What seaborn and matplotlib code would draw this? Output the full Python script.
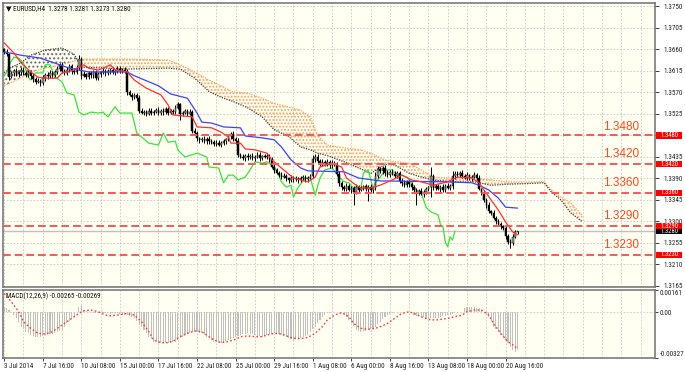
import numpy as np
import seaborn as sns
import matplotlib.pyplot as plt
from matplotlib import font_manager
from matplotlib.patches import Rectangle

# prices are kept as pips above 1.3000
BASE = 1.3

close_pips = [655, 650, 603, 610, 615, 608, 612, 618, 610, 606,
              612, 605, 598, 592, 595, 590, 600, 607, 604, 610,
              606, 612, 620, 628, 615, 610, 618, 625, 615, 612,
              622, 640, 605, 608, 603, 610, 606, 612, 600, 608,
              612, 616, 610, 614, 618, 612, 616, 620, 614, 618,
              615, 570, 565, 560, 564, 558, 532, 528, 530, 526,
              532, 528, 530, 534, 527, 531, 529, 535, 528, 532,
              530, 538, 545, 525, 528, 531, 526, 529, 490, 485,
              474, 470, 472, 468, 473, 469, 466, 462, 465, 461,
              464, 468, 472, 478, 484, 473, 469, 440, 436, 432,
              437, 434, 438, 432, 436, 440, 433, 437, 435, 438,
              430, 415, 408, 402, 398, 393, 396, 390, 386, 392,
              388, 391, 386, 390, 393, 388, 392, 395, 430, 436,
              426, 422, 425, 420, 424, 418, 423, 419, 400, 380,
              372, 368, 375, 366, 370, 362, 372, 366, 370, 374,
              368, 372, 365, 370, 395, 410, 405, 412, 402, 398,
              404, 400, 396, 402, 385, 380, 376, 383, 378, 372,
              365, 360, 364, 358, 362, 368, 372, 395, 370, 374,
              368, 372, 366, 375, 370, 374, 395, 400, 397, 402,
              395, 392, 397, 390, 394, 398, 392, 368, 360, 345,
              335, 322, 318, 308, 300, 295, 290, 287, 270, 258,
              255, 268, 278, 280]
first_open_pips = 660
wick_hi = [4, 6, 3, 5, 4, 7, 3, 5, 6, 4,
           5, 3, 6, 4, 5, 3, 6, 4, 5, 7,
           4, 6, 5, 3, 5, 4, 6, 5, 4, 6,
           5, 8, 4, 6, 3, 5, 4, 6, 5, 4,
           3, 5, 4, 6, 3, 5, 4, 5, 6, 4,
           5, 4, 6, 3, 5, 4, 6, 5, 3, 4,
           5, 6, 4, 3, 5, 4, 6, 4, 5, 3,
           4, 6, 5, 4, 3, 5, 4, 6, 4, 5,
           4, 3, 5, 6, 4, 5, 3, 4, 6, 5,
           4, 5, 3, 6, 4, 5, 4, 6, 3, 5,
           4, 6, 3, 5, 4, 6, 5, 3, 4, 5,
           4, 5, 6, 3, 4, 5, 6, 4, 3, 5,
           4, 5, 3, 6, 4, 5, 3, 4, 10, 5,
           6, 4, 5, 3, 6, 4, 5, 4, 6, 5,
           4, 5, 6, 3, 5, 4, 6, 5, 4, 3,
           5, 4, 6, 3, 8, 6, 5, 4, 6, 5,
           4, 6, 5, 3, 4, 5, 6, 3, 4, 5,
           4, 5, 3, 6, 4, 5, 3, 19, 5, 4,
           5, 4, 6, 3, 5, 4, 10, 6, 5, 4,
           5, 4, 6, 3, 4, 5, 4, 6, 3, 5,
           4, 5, 3, 6, 4, 5, 4, 3, 5, 4,
           6, 5, 4, 1]
wick_lo = [5, 4, 6, 3, 5, 4, 6, 5, 3, 4,
           4, 6, 5, 4, 3, 6, 4, 5, 6, 3,
           5, 4, 3, 6, 5, 4, 3, 5, 6, 4,
           4, 5, 6, 3, 5, 4, 6, 5, 4, 3,
           5, 4, 6, 3, 5, 4, 5, 6, 4, 3,
           4, 5, 3, 6, 4, 5, 4, 3, 6, 5,
           4, 5, 6, 3, 5, 4, 6, 3, 5, 4,
           5, 4, 3, 13, 5, 4, 6, 3, 5, 4,
           6, 5, 4, 3, 5, 6, 4, 5, 3, 4,
           5, 4, 6, 3, 5, 4, 6, 5, 4, 3,
           5, 6, 4, 3, 5, 4, 6, 5, 3, 4,
           5, 4, 6, 3, 5, 4, 3, 6, 5, 4,
           6, 4, 5, 3, 4, 6, 5, 4, 3, 5,
           4, 6, 5, 3, 4, 5, 6, 3, 4, 5,
           6, 4, 5, 3, 6, 27, 4, 5, 3, 4,
           5, 26, 4, 6, 5, 3, 4, 5, 6, 4,
           5, 3, 6, 4, 5, 6, 3, 4, 5, 6,
           4, 25, 5, 3, 6, 4, 5, 21, 4, 5,
           3, 6, 4, 5, 3, 4, 5, 6, 4, 3,
           5, 4, 6, 3, 5, 4, 6, 3, 5, 4,
           6, 4, 5, 3, 6, 4, 5, 4, 6, 5,
           10, 4, 3, 5]

tenkan_bar = [0, 2, 4, 7, 9, 11, 14, 17, 22, 24, 29, 31, 33, 35, 39, 42, 44, 46, 51, 54,
              59, 65, 68, 70, 78, 80, 86, 90, 93, 94, 98, 100, 104, 109, 111, 115, 120, 126, 129, 131,
              136, 140, 142, 146, 148, 152, 156, 161, 165, 169, 173, 178, 184, 188, 194, 197, 199, 202, 205, 208,
              211, 213]
tenkan_pips = [674, 663, 653, 632, 623, 613, 602, 600, 600, 611, 617, 623, 628, 621, 617, 623, 628, 617, 613, 596,
               579, 565, 544, 523, 519, 498, 496, 487, 477, 464, 464, 452, 450, 443, 429, 412, 391, 383, 393, 414,
               422, 414, 391, 376, 370, 370, 376, 387, 397, 387, 383, 376, 383, 393, 391, 381, 366, 345, 324, 299,
               278, 272]

kijun_bar = [0, 7, 15, 27, 35, 51, 54, 64, 69, 76, 80, 82, 86, 91, 98, 100, 107, 112, 115, 119,
             123, 126, 141, 147, 156, 184, 194, 197, 201, 205, 208, 213]
kijun_pips = [655, 648, 642, 621, 613, 613, 605, 584, 567, 558, 527, 508, 506, 498, 496, 479, 475, 471, 456, 429,
              412, 406, 404, 391, 385, 383, 381, 376, 366, 349, 330, 328]

chikou_bar = [0, 1, 2, 4, 6, 8, 10, 11, 13, 16, 17, 19, 21, 23, 24, 26, 29, 31, 33, 36,
              39, 41, 43, 45, 46, 48, 51, 53, 55, 60, 64, 66, 68, 71, 72, 75, 80, 84, 85, 89,
              91, 93, 95, 97, 100, 102, 104, 107, 109, 111, 113, 115, 117, 119, 120, 122, 125, 127, 129, 131,
              133, 136, 139, 141, 143, 145, 148, 149, 151, 153, 154, 156, 158, 161, 163, 165, 167, 169, 171, 173,
              175, 177, 180, 181, 182, 183, 184, 185, 186, 187]
chikou_pips = [607, 611, 628, 644, 642, 632, 602, 596, 611, 611, 628, 628, 602, 596, 592, 569, 565, 529, 523, 529,
               527, 529, 519, 533, 540, 527, 527, 527, 485, 464, 460, 485, 466, 468, 450, 435, 443, 435, 414, 412,
               381, 397, 397, 387, 393, 408, 425, 422, 425, 418, 408, 383, 372, 376, 351, 372, 391, 391, 355, 391,
               408, 412, 393, 383, 381, 370, 370, 401, 408, 370, 381, 393, 408, 408, 397, 397, 393, 381, 366, 360,
               330, 320, 314, 293, 290, 257, 247, 268, 261, 280]

span_bar = [0, 3, 7, 11, 17, 24, 29, 32, 51, 68, 73, 79, 85, 90, 95, 101, 107, 112, 118, 123,
            127, 130, 134, 141, 148, 152, 158, 162, 168, 173, 178, 185, 195, 202, 209, 215, 224, 227, 231, 235,
            240]
span_a = [584, 591, 601, 613, 621, 628, 636, 640, 640, 638, 628, 613, 596, 584, 571, 569, 558, 547, 540, 533,
          519, 481, 460, 454, 450, 443, 429, 425, 422, 408, 393, 391, 391, 387, 383, 383, 383, 366, 351, 339,
          312]
span_b = [611, 623, 632, 648, 659, 663, 650, 623, 619, 621, 619, 600, 572, 560, 551, 538, 519, 492, 478, 456,
          450, 443, 438, 425, 410, 400, 420, 418, 401, 393, 387, 383, 383, 376, 378, 379, 381, 362, 345, 318,
          299]

levels = [1.3480, 1.3420, 1.3360, 1.3290, 1.3230]
last_price = 1.3280
price_ticks = [1.3750, 1.3705, 1.3660, 1.3615, 1.3570, 1.3525, 1.3480,
               1.3435, 1.3390, 1.3345, 1.3300, 1.3255, 1.3210, 1.3165]

date_bars = [0, 16, 32, 48, 64, 80, 96, 112, 128, 144, 160, 176, 192, 208]
date_labels = ['3 Jul 2014', '7 Jul 16:00', '10 Jul 08:00', '15 Jul 00:00', '17 Jul 16:00',
               '22 Jul 08:00', '25 Jul 00:00', '29 Jul 16:00', '1 Aug 08:00', '6 Aug 00:00',
               '8 Aug 16:00', '13 Aug 08:00', '18 Aug 00:00', '20 Aug 16:00']

# MACD values in units of 0.00001
macd_main = [40, 30, 15, 5, -15, -43, -70, -102, -120, -138,
             -150, -162, -168, -174, -175, -174, -170, -166, -162, -158,
             -154, -150, -142, -134, -126, -105, -79, -62, -46, -31,
             5, 40, 52, 17, 10, 5, 0, -3, -5, -6,
             -7, -6, -5, -7, -8, -6, -7, -7, -10, -13,
             -16, -19, -27, -35, -43, -63, -82, -102, -126, -150,
             -174, -192, -209, -215, -218, -221, -222, -221, -221, -217,
             -213, -209, -197, -186, -174, -162, -150, -145, -140, -138,
             -142, -146, -150, -162, -174, -186, -198, -209, -214, -218,
             -221, -214, -206, -198, -190, -182, -174, -170, -162, -158,
             -154, -150, -154, -158, -162, -166, -170, -174, -168, -162,
             -158, -154, -150, -154, -158, -162, -170, -178, -186, -192,
             -198, -194, -190, -186, -178, -170, -162, -142, -122, -102,
             -78, -54, -31, -20, -7, -2, 2, 5, 3, 0,
             -7, -15, -31, -55, -79, -100, -126, -132, -138, -134,
             -130, -126, -118, -110, -102, -85, -67, -50, -35, -19,
             -10, -5, 0, 3, 4, 5, 5, 5, 5, -5,
             -19, -23, -27, -31, -35, -39, -43, -43, -43, -43,
             -37, -31, -27, -23, -19, -15, -11, -7, -3, 1,
             5, 29, 40, 39, 38, 36, 33, 29, 15, 0,
             -15, -31, -65, -102, -122, -142, -162, -182, -202, -221,
             -245, -269, -285, -265]
signal_bar = [0, 3, 6, 8, 11, 14, 17, 20, 22, 25, 28, 31, 33, 36, 39, 42, 44, 47, 51, 54,
              57, 60, 62, 65, 68, 71, 73, 76, 79, 82, 85, 87, 90, 93, 96, 98, 101, 104, 107, 109,
              112, 115, 118, 120, 123, 126, 129, 132, 134, 137, 140, 143, 145, 148, 151, 154, 156, 159, 162, 165,
              168, 170, 173, 176, 179, 181, 184, 187, 190, 192, 195, 198, 201, 203, 206, 209, 212, 213]
signal_val = [136, 76, 5, -67, -114, -150, -155, -138, -114, -79, -43, -7, 12, 17, 5, -19, -24, -19, -7, -19,
              -67, -138, -198, -217, -217, -198, -174, -150, -133, -138, -174, -198, -217, -209, -193, -174, -169, -174, -174, -162,
              -150, -155, -174, -186, -188, -179, -150, -102, -55, -19, -2, -31, -79, -114, -121, -114, -102, -79, -43, -7,
              5, -7, -31, -50, -55, -50, -43, -31, -19, 5, 17, 17, -19, -79, -150, -209, -245, -269]
macd_ticks = [0.00161, 0.0, -0.00327]
macd_tick_labels = ['0.00161', '0.00', '-0.00327']


def px(p):
    return BASE + np.asarray(p, dtype=float) / 1e4


sns.set_theme(style='white')
installed = {f.name for f in font_manager.fontManager.ttflist}
narrow = next((f for f in ['Liberation Sans Narrow', 'DejaVu Sans Condensed', 'Roboto Condensed']
               if f in installed), None)
small_fs = 5.1 if narrow else 4.5
plt.rcParams['font.family'] = [narrow or 'Liberation Sans', 'DejaVu Sans']
plt.rcParams['hatch.linewidth'] = 0.9

W, H = 685, 372
fig = plt.figure(figsize=(W / 100, H / 100), dpi=100)
fig.patch.set_facecolor('white')


def frame(x0, y0, x1, y1):
    return [x0 / W, 1 - y1 / H, (x1 - x0) / W, (y1 - y0) / H]


ax = fig.add_axes(frame(3, 3, 655, 287))
ax2 = fig.add_axes(frame(3, 290, 655, 358))
bg = '#fffff2'
grid_kw = dict(color='#c6c6c6', lw=0.6, ls=(0, (2, 2)), zorder=0)

for a in (ax, ax2):
    a.set_facecolor(bg)
    a.set_xlim(-0.5, 270)
    for s in a.spines.values():
        s.set_color('#707070')
        s.set_linewidth(1.1)
    for g in range(0, 271, 8):
        a.axvline(g, **grid_kw)

# ---- main price panel ----
ax.set_ylim(1.31629, 1.37573)
for t in price_ticks:
    ax.axhline(t, **grid_kw)

# ichimoku cloud
sb = np.array(span_bar)
sa = px(span_a)
sbb = px(span_b)
ax.fill_between(sb, sa, sbb, where=sa >= sbb, interpolate=True, facecolor='none',
                edgecolor='#f4a460', hatch='.....', lw=0, zorder=1)
ax.fill_between(sb, sa, sbb, where=sbb > sa, interpolate=True, facecolor='none',
                edgecolor='#6a6a6a', hatch='....', lw=0, zorder=1)
sns.lineplot(x=sb, y=sa, ax=ax, color='#f4a460', lw=0.9, ls=(0, (1, 1)), zorder=2)
sns.lineplot(x=sb, y=sbb, ax=ax, color='#404040', lw=0.9, ls=(0, (1, 1)), zorder=2)

# candles
n = len(close_pips)
bars = np.arange(n)
close = px(close_pips)
opens = np.r_[px(first_open_pips), close[:-1]]
high = np.maximum(opens, close) + np.array(wick_hi) / 1e4
low = np.minimum(opens, close) - np.array(wick_lo) / 1e4
up = close >= opens
body = np.maximum(np.abs(close - opens), 0.00008)
ax.vlines(bars, low, high, color='black', lw=0.7, zorder=4)
ax.bar(bars[up], body[up], bottom=np.minimum(opens, close)[up], width=0.62,
       color='#a4a494', edgecolor='black', lw=0.35, zorder=5)
ax.bar(bars[~up], body[~up], bottom=np.minimum(opens, close)[~up], width=0.62,
       color='black', edgecolor='black', lw=0.35, zorder=5)

# ichimoku lines
sns.lineplot(x=chikou_bar, y=px(chikou_pips), ax=ax, color='#3ce23c', lw=0.9, zorder=3)
sns.lineplot(x=kijun_bar, y=px(kijun_pips), ax=ax, color='#4040ff', lw=0.9, zorder=6)
sns.lineplot(x=tenkan_bar, y=px(tenkan_pips), ax=ax, color='#ff3030', lw=0.9, zorder=6)

# current price line and support/resistance levels
ax.axhline(last_price, color='#c0c0c0', lw=1.0, zorder=1)
ytr = ax.get_yaxis_transform()
for lv in levels:
    ax.axhline(lv, color='#f55a5a', lw=1.4, ls=(0, (4, 2)), zorder=7)
    off = 0.0005 if lv == levels[0] else 0.0008
    ax.text(0.920, lv + off, f'{lv:.4f}', transform=ytr, color='#ff4a1c',
            fontsize=8.5, family=['Liberation Sans', 'DejaVu Sans'], va='bottom', ha='left', zorder=8)

ax.yaxis.tick_right()
ax.set_yticks(price_ticks)
# a tick label that sits exactly under a level box is hidden by it
ax.set_yticklabels(['' if t in levels else f'{t:.4f}' for t in price_ticks])
ax.tick_params(axis='y', labelsize=small_fs, length=3, width=0.6, pad=3, colors='#202020', right=True)
ax.tick_params(axis='x', bottom=False, labelbottom=False)
ax.set_xlabel('')
ax.set_ylabel('')

box_h = 0.00132
box_fs = small_fs - 0.3
for lv, fc, z in [(lv, '#ff0000', 11) for lv in levels] + [(last_price, '#000000', 9)]:
    ax.add_patch(Rectangle((1.0015, lv - box_h / 2), 0.040, box_h, transform=ytr,
                           facecolor=fc, edgecolor='none', clip_on=False, zorder=z))
    ax.text(1.0215, lv, f'{lv:.4f}', transform=ytr, color='white', fontsize=box_fs,
            ha='center', va='center', clip_on=False, zorder=z + 1)

ax.text(0.004, 0.993, '\u25bc EURUSD,H4  1.3278 1.3281 1.3273 1.3280', transform=ax.transAxes,
        fontsize=small_fs, va='top', ha='left', color='#101010')

# ---- MACD panel ----
ax2.set_ylim(-0.00327, 0.00161)
ax2.axhline(0, **grid_kw)
ax2.bar(bars, np.array(macd_main) / 1e5, width=0.45, color='#c0c0c0', lw=0, zorder=2)
sns.lineplot(x=signal_bar, y=np.array(signal_val) / 1e5, ax=ax2, color='#ff3a3a',
             lw=1.0, ls=(0, (1.2, 1.6)), zorder=3)
ax2.text(0.004, 0.96, 'MACD(12,26,9) -0.00265 -0.00269', transform=ax2.transAxes,
         fontsize=small_fs, va='top', ha='left', color='#101010')

ax2.yaxis.tick_right()
ax2.set_yticks(macd_ticks)
ax2.set_yticklabels(macd_tick_labels)
ax2.tick_params(axis='y', labelsize=small_fs, length=2, width=0.6, pad=1.5, colors='#202020', right=True)
ylabs = ax2.get_yticklabels()
ylabs[0].set_va('top')
ylabs[2].set_va('bottom')

ax2.set_xticks(date_bars)
ax2.set_xticklabels(date_labels, ha='left')
ax2.tick_params(axis='x', labelsize=small_fs, length=2, width=0.6, pad=1.5, colors='#202020', bottom=True)
ax2.set_xlabel('')
ax2.set_ylabel('')

fig.savefig('out.png', dpi=100, facecolor='white')
